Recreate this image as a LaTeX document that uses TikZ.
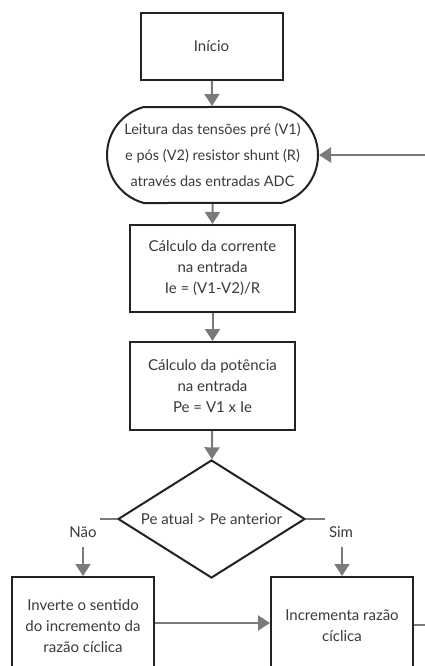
\documentclass[tikz,border=0pt]{standalone}
\usepackage{fontspec}
\setmainfont{Lato}
\usetikzlibrary{arrows.meta,shapes.geometric,shapes.misc}
\definecolor{conncol}{HTML}{7A7A7A}
\definecolor{bordercol}{HTML}{222222}
\definecolor{txtcol}{HTML}{3A3A3A}
\tikzset{
  base/.style={draw=bordercol, line width=2pt, fill=white, text=txtcol, align=center, font=\fontsize{15}{21}\selectfont, inner sep=0pt},
  procbox/.style={base, rectangle},
  termbox/.style={base, rounded rectangle, rounded rectangle arc length=150, font=\fontsize{14.5}{26}\selectfont},
  decbox/.style={base, diamond, aspect=1.585},
  conn/.style={draw=conncol, line width=2pt, -{Triangle[width=15pt,length=12pt]}},
  lbl/.style={fill=white, text=txtcol, font=\fontsize{15}{17}\selectfont, inner sep=0pt}
}
\begin{document}
\begin{tikzpicture}[x=1pt,y=-1pt]
\useasboundingbox (0,0) rectangle (425,666);
\clip (0,0) rectangle (425,666);
\node[procbox, minimum width=142pt, minimum height=67pt] (inicio) at (211.5,46.5) {Início};
\node[termbox, minimum width=211pt, minimum height=96pt] (leitura) at (212.5,155) {Leitura das tensões pré (V1)\\e pós (V2) resistor shunt (R)\\através das entradas ADC};
\node[procbox, minimum width=165pt, minimum height=87pt] (corrente) at (212.5,268.5) {Cálculo da corrente\\na entrada\\Ie = (V1-V2)/R};
\node[procbox, minimum width=165pt, minimum height=88pt] (potencia) at (212.5,386) {Cálculo da potência\\na entrada\\Pe = V1 x Ie};
\node[decbox, minimum width=187pt, minimum height=118pt] (dec) at (211.5,519) {Pe atual > Pe anterior};
\node[procbox, minimum width=142pt, minimum height=98pt] (inverte) at (83,626) {Inverte o sentido\\do incremento da\\razão cíclica};
\node[procbox, minimum width=142pt, minimum height=98pt] (incrementa) at (342,626) {Incrementa razão\\cíclica};
\coordinate (loopcorner) at (445,626);

\draw[conn] (inicio) -- (leitura);
\draw[conn] (leitura) -- (corrente);
\draw[conn] (corrente) -- (potencia);
\draw[conn] (potencia) -- (dec);
\draw[conn] (dec.west) -| (inverte.north);
\draw[conn] (dec.east) -| (incrementa.north);
\draw[conn] (inverte.east |- 0,623) -- (incrementa.west |- 0,623);
\draw[conn] (incrementa.east |- 0,625) -- (loopcorner |- 0,625) |- (leitura.east);

\node[lbl, minimum width=34pt, minimum height=30pt] (nao) at (83,532) {Não};
\node[lbl, minimum width=32pt, minimum height=30pt] (sim) at (341,532) {Sim};
\end{tikzpicture}
\end{document}
